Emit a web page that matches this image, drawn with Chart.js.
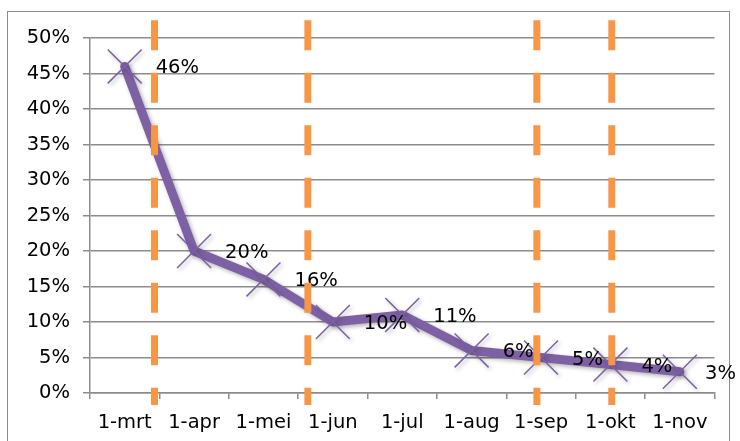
<!DOCTYPE html>
<html>
<head>
<meta charset="utf-8">
<script src="https://cdn.jsdelivr.net/npm/chart.js@4.4.0/dist/chart.umd.min.js"></script>
<style>
  html, body { margin: 0; padding: 0; background: #fff; }
</style>
</head>
<body>
<canvas id="chart" width="740" height="441"></canvas>
<script>
// x axis categories
const months = ['1-mrt', '1-apr', '1-mei', '1-jun', '1-jul', '1-aug', '1-sep', '1-okt', '1-nov'];
// share per month (as fraction)
const share = [0.46, 0.20, 0.16, 0.10, 0.11, 0.06, 0.05, 0.04, 0.03];
// orange dashed lines, position in month-index units
const markerLines = [0.43, 2.64, 5.94, 7.02];
// y axis: 0% .. 50% step 5%
const yMin = 0, yMax = 0.5, yStep = 0.05;

const purple = '#7e60a5';
const orange = '#f79646';
const gridGray = '#8c8c8c';
const font = { family: 'DejaVu Sans', size: 19.5 };

// outer frame around the chart
const framePlugin = {
    id: 'frame',
    beforeDraw(chart) {
        const ctx = chart.ctx;
        ctx.save();
        ctx.fillStyle = '#fff';
        ctx.fillRect(0, 0, chart.width, chart.height);
        ctx.strokeStyle = gridGray;
        ctx.lineWidth = 1;
        ctx.strokeRect(7.5, 11.5, 722, 440);
        ctx.restore();
    }
};

// shadow under the purple series + value labels to the right of each point
const seriesPlugin = {
    id: 'series',
    beforeDatasetDraw(chart, args) {
        if (args.meta.label !== 'share') return;
        const ctx = chart.ctx;
        ctx.save();
        ctx.shadowColor = 'rgba(0,0,0,0.3)';
        ctx.shadowBlur = 4;
        ctx.shadowOffsetX = 2;
        ctx.shadowOffsetY = 2;
    },
    afterDatasetDraw(chart, args) {
        if (args.meta.label !== 'share') return;
        const ctx = chart.ctx;
        ctx.restore();
        ctx.save();
        ctx.font = font.size + 'px ' + font.family;
        ctx.fillStyle = '#000';
        ctx.textAlign = 'left';
        ctx.textBaseline = 'middle';
        args.meta.data.forEach((pt, i) => {
            const txt = Math.round(share[i] * 100) + '%';
            const w = ctx.measureText(txt).width;
            let x = pt.x + 31;
            if (x + w > 736) x = 736 - w;
            ctx.fillText(txt, x, pt.y + 2);
        });
        ctx.restore();
    }
};

const datasets = [];
markerLines.forEach(pos => {
    datasets.push({
        label: 'marker',
        xAxisID: 'x2',
        data: [{ x: pos, y: 0.525 }, { x: pos, y: -0.017 }],
        borderColor: orange,
        borderWidth: 7,
        borderDash: [30, 22.5],
        borderCapStyle: 'butt',
        pointRadius: 0,
        clip: false,
        order: 0
    });
});
datasets.push({
    label: 'share',
    data: share,
    borderColor: purple,
    borderWidth: 9,
    borderCapStyle: 'round',
    borderJoinStyle: 'round',
    pointStyle: 'crossRot',
    pointRadius: 24,
    pointBorderWidth: 1.5,
    pointBorderColor: purple,
    pointBackgroundColor: purple,
    tension: 0,
    order: 1
});

new Chart(document.getElementById('chart'), {
    type: 'line',
    data: { labels: months, datasets: datasets },
    options: {
        responsive: false,
        animation: false,
        devicePixelRatio: 1,
        layout: { padding: { left: 0, right: 23, top: 38, bottom: 0 } },
        plugins: { legend: { display: false }, tooltip: { enabled: false } },
        scales: {
            x: {
                type: 'category',
                offset: true,
                afterFit(scale) { scale.height = 48; },
                grid: {
                    offset: true,
                    drawOnChartArea: false,
                    tickLength: 6,
                    color: gridGray,
                    lineWidth: 1.5
                },
                border: { display: true, color: gridGray, width: 1.5 },
                ticks: { color: '#000', font: font, padding: 12, maxRotation: 0, autoSkip: false }
            },
            x2: {
                type: 'linear',
                display: false,
                min: -0.5,
                max: months.length - 0.5
            },
            y: {
                min: yMin,
                max: yMax,
                afterFit(scale) { scale.width = 90; },
                grid: { color: gridGray, lineWidth: 1.5, tickLength: 7 },
                border: { display: true, color: gridGray, width: 1.5 },
                ticks: {
                    stepSize: yStep,
                    color: '#000',
                    font: font,
                    padding: 13,
                    callback: v => Math.round(v * 100) + '%'
                }
            }
        }
    },
    plugins: [framePlugin, seriesPlugin]
});
</script>
</body>
</html>
